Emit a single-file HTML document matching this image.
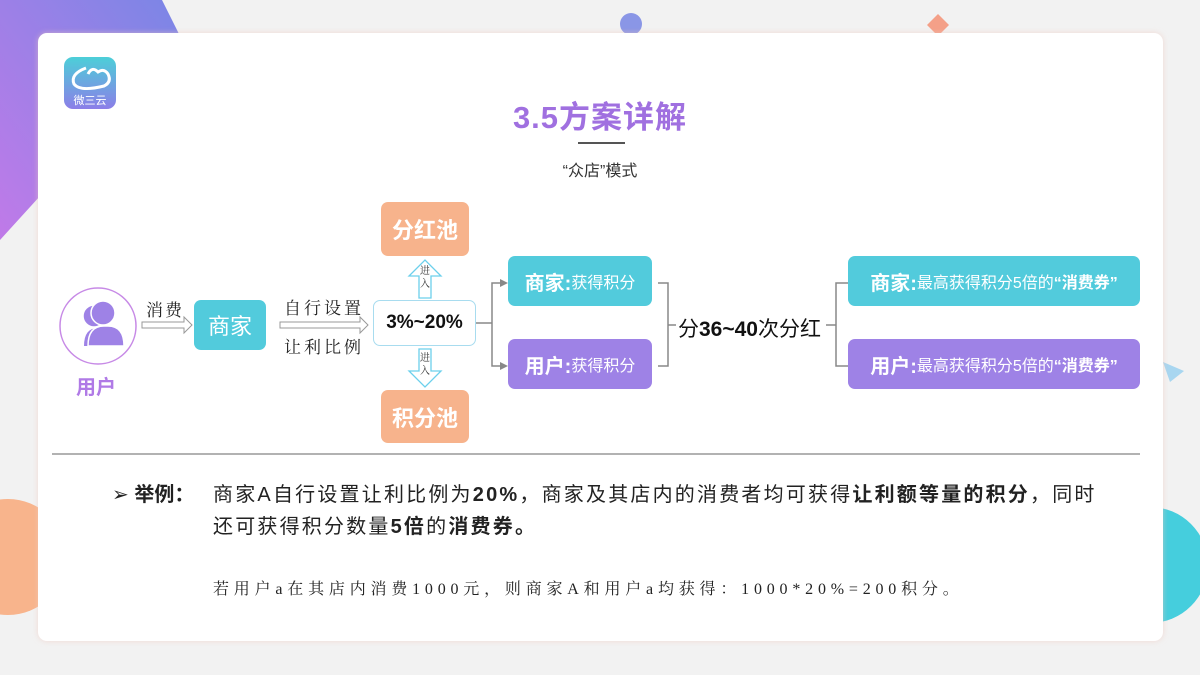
<!DOCTYPE html>
<html><head><meta charset="utf-8"><style>
*{margin:0;padding:0;box-sizing:border-box}
body{width:1200px;height:675px;background:#f2f2f2;position:relative;overflow:hidden;font-family:"Liberation Sans","Noto Sans CJK SC",sans-serif}
.abs{position:absolute}
.card{left:38px;top:33px;width:1125px;height:608px;background:#fff;border-radius:9px;box-shadow:0 0 6px rgba(240,200,190,.6)}
.box{position:absolute;border-radius:7px;color:#fff;display:flex;align-items:center;justify-content:center;white-space:nowrap}
.t{position:absolute;white-space:nowrap}
.serif{font-family:"Liberation Serif","Noto Serif CJK SC",serif}
</style></head><body>
<svg class="abs" style="left:0;top:0" width="1200" height="675">
<defs><linearGradient id="g1" x1="0" y1="1" x2="1" y2="0"><stop offset="0" stop-color="#c07ae8"/><stop offset="1" stop-color="#7a86e6"/></linearGradient></defs>
<polygon points="0,0 162,0 182,40 0,240" fill="url(#g1)"/>
<circle cx="8" cy="557" r="58" fill="#f8b48c"/>
<circle cx="1150" cy="565" r="58" fill="#45cedd"/>
<circle cx="631" cy="24" r="11" fill="#8a96e6"/>
<polygon points="938,14 949,25 938,36 927,25" fill="#f4a088"/>
<polygon points="1163,362 1184,371 1170,382" fill="#a8d6f0"/>
</svg>
<div class="abs card"></div>
<svg class="abs" style="left:0;top:0" width="1200" height="675">
<defs><linearGradient id="lg" x1="0" y1="0" x2="0" y2="1"><stop offset="0" stop-color="#4ccfd8"/><stop offset="1" stop-color="#8c7ee8"/></linearGradient></defs>
<rect x="64" y="57" width="52" height="52" rx="9" fill="url(#lg)"/>
<path d="M86 68 q-16 6 -12 16 q6 8 30 2 q8 -4 4 -12 q-4 -6 -10 -2 q-6 -6 -10 2" fill="none" stroke="#fff" stroke-width="3"/>
<text x="90" y="104" font-size="11" fill="#fff" text-anchor="middle" font-family="Noto Sans CJK SC">微三云</text>
<line x1="578" y1="143" x2="625" y2="143" stroke="#555" stroke-width="2"/>
<circle cx="98" cy="326" r="38" fill="#fff" stroke="#c78ae6" stroke-width="1.5"/>
<circle cx="94" cy="316" r="11" fill="#9e82e6" stroke="#fff" stroke-width="1.5"/>
<circle cx="103" cy="313" r="12" fill="#9e82e6" stroke="#fff" stroke-width="1.5"/>
<path d="M84 346 q0 -18 14 -18 h4 v18z" fill="#9e82e6"/>
<path d="M88 346 q0 -20 16 -20 h4 q16 0 16 20z" fill="#9e82e6" stroke="#fff" stroke-width="1.5"/>
<path d="M142 322 h42 v-5 l8 8 l-8 8 v-5 h-42z" fill="#fff" stroke="#999"/>
<path d="M280 322 h80 v-5 l8 8 l-8 8 v-5 h-80z" fill="#fff" stroke="#999"/>
<path d="M419 298 v-22 h-10 l16 -16 l16 16 h-10 v22z" fill="#fff" stroke="#6cd0ec" stroke-width="1.3"/>
<path d="M419 349 v22 h-10 l16 16 l16 -16 h-10 v-22z" fill="#fff" stroke="#6cd0ec" stroke-width="1.3"/>
<g fill="none" stroke="#888" stroke-width="1.5">
<path d="M476 323 h16 M500 283 h-8 v83 h8"/>
<path d="M658 283 h10 v83 h-10 M668 325 h8"/>
<path d="M848 283 h-12 v83 h12 M836 325 h-10"/>
</g>
<path d="M508 283 l-8 -4 v8z M508 366 l-8 -4 v8z" fill="#888"/>
<line x1="52" y1="454" x2="1140" y2="454" stroke="#999" stroke-width="1.5"/>
</svg>
<div class="t" style="left:0;width:1200px;text-align:center;top:92px;font-size:31px;font-weight:bold;color:#a070e0;letter-spacing:1px">3.5方案详解</div>
<div class="t" style="left:0;width:1200px;text-align:center;top:157px;font-size:16px;color:#333">“众店”模式</div>
<div class="t" style="left:76px;top:371px;font-size:20px;font-weight:bold;color:#b07ae6">用户</div>
<div class="t serif" style="left:146px;top:296px;font-size:17px;color:#222;letter-spacing:2px">消费</div>
<div class="box" style="left:194px;top:300px;width:72px;height:50px;background:#52cbdc;font-size:22px">商家</div>
<div class="t serif" style="left:284px;top:294px;font-size:17px;color:#222;letter-spacing:3px">自行设置</div>
<div class="t serif" style="left:284px;top:333px;font-size:17px;color:#222;letter-spacing:3px">让利比例</div>
<div class="box" style="left:373px;top:300px;width:103px;height:46px;background:#fff;border:1.5px solid #a8dcef;color:#111;font-size:19px;font-weight:bold">3%~20%</div>
<div class="t serif" style="left:420px;top:265px;font-size:10px;line-height:13px;color:#333">进<br>入</div>
<div class="t serif" style="left:420px;top:352px;font-size:10px;line-height:13px;color:#333">进<br>入</div>
<div class="box" style="left:381px;top:202px;width:88px;height:54px;background:#f7b38c;font-size:22px;font-weight:bold">分红池</div>
<div class="box" style="left:381px;top:390px;width:88px;height:53px;background:#f7b38c;font-size:22px;font-weight:bold">积分池</div>
<div class="box" style="left:508px;top:256px;width:144px;height:50px;background:#52cbdc;font-size:16px"><b style="font-size:20px">商家:</b>获得积分</div>
<div class="box" style="left:508px;top:339px;width:144px;height:50px;background:#9e82e6;font-size:16px"><b style="font-size:20px">用户:</b>获得积分</div>
<div class="t" style="left:678px;top:313px;font-size:21px;color:#111">分<b>36~40</b>次分红</div>
<div class="box" style="left:848px;top:256px;width:292px;height:50px;background:#52cbdc;font-size:16px"><b style="font-size:20px">商家:</b>最高获得积分5倍的<b>“消费券”</b></div>
<div class="box" style="left:848px;top:339px;width:292px;height:50px;background:#9e82e6;font-size:16px"><b style="font-size:20px">用户:</b>最高获得积分5倍的<b>“消费券”</b></div>
<div class="t" style="left:112px;top:478px;font-size:20px;color:#222"><span style="font-size:20px">➢</span> <b>举例：</b></div>
<div class="t" style="left:213px;top:478px;font-size:20px;color:#222;letter-spacing:2.2px">商家A自行设置让利比例为<b>20%</b>，商家及其店内的消费者均可获得<b>让利额等量的积分</b>，同时</div>
<div class="t" style="left:213px;top:510px;font-size:20px;color:#222;letter-spacing:2.2px">还可获得积分数量<b>5倍</b>的<b>消费券。</b></div>
<div class="t serif" style="left:213px;top:576px;font-size:16px;color:#222;letter-spacing:4.8px">若用户a在其店内消费1000元，则商家A和用户a均获得：1000*20%=200积分。</div>
</body></html>
